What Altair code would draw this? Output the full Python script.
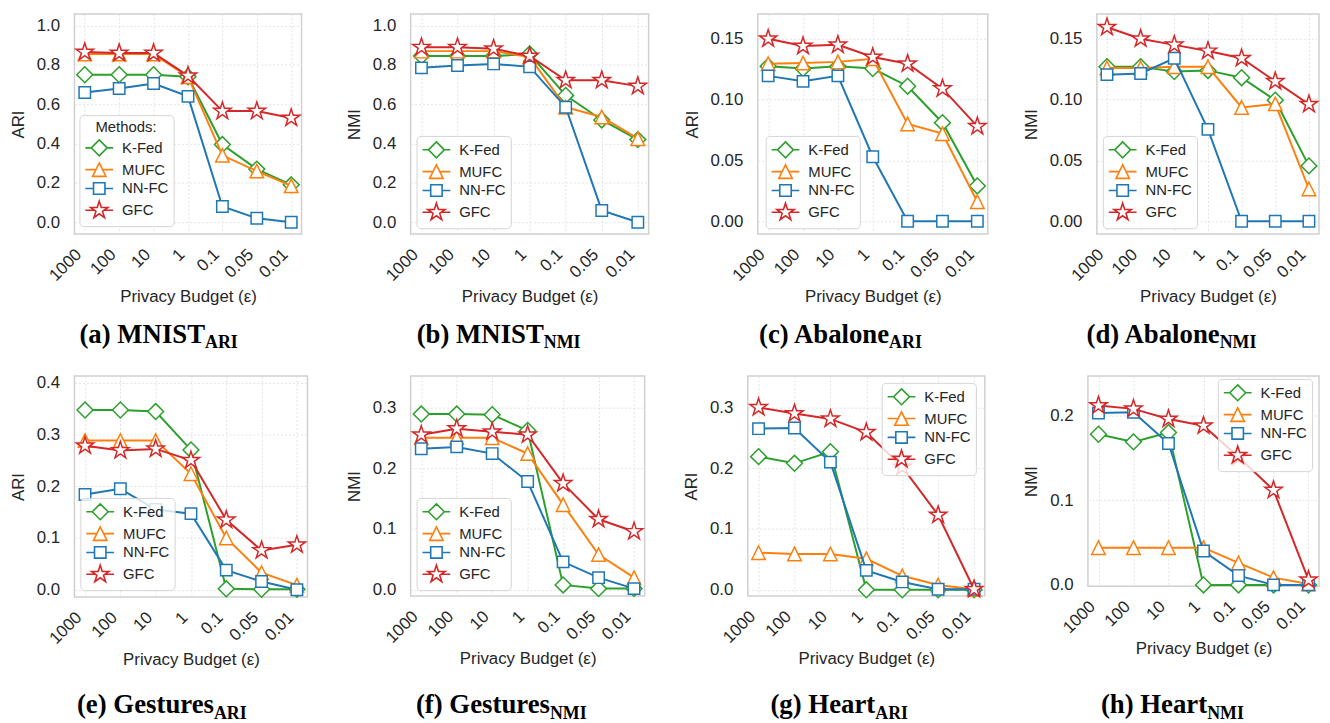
import altair as alt
import pandas as pd

# ---------------- data ----------------
EPS = ["1000", "100", "10", "1", "0.1", "0.05", "0.01"]
METHODS = ["K-Fed", "MUFC", "NN-FC", "GFC"]
COLORS = ["#2ca02c", "#ff7f0e", "#1f77b4", "#d62728"]

MNIST_ARI = {
    "K-Fed": [0.75, 0.75, 0.75, 0.74, 0.395, 0.27, 0.19],
    "MUFC": [0.855, 0.855, 0.855, 0.74, 0.34, 0.26, 0.185],
    "NN-FC": [0.66, 0.68, 0.705, 0.64, 0.08, 0.02, 0.0],
    "GFC": [0.865, 0.86, 0.86, 0.745, 0.565, 0.565, 0.53],
}
MNIST_NMI = {
    "K-Fed": [0.845, 0.845, 0.845, 0.855, 0.645, 0.52, 0.42],
    "MUFC": [0.87, 0.87, 0.87, 0.84, 0.585, 0.535, 0.425],
    "NN-FC": [0.785, 0.797, 0.805, 0.79, 0.585, 0.06, 0.0],
    "GFC": [0.89, 0.89, 0.882, 0.845, 0.722, 0.722, 0.692],
}
ABALONE_ARI = {
    "K-Fed": [0.1275, 0.1255, 0.1275, 0.1255, 0.111, 0.081, 0.029],
    "MUFC": [0.1295, 0.13, 0.131, 0.1335, 0.08, 0.072, 0.016],
    "NN-FC": [0.1195, 0.115, 0.1195, 0.053, 0.0, 0.0, 0.0],
    "GFC": [0.15, 0.144, 0.145, 0.135, 0.1295, 0.109, 0.078],
}
ABALONE_NMI = {
    "K-Fed": [0.127, 0.127, 0.123, 0.124, 0.118, 0.0995, 0.0455],
    "MUFC": [0.126, 0.126, 0.127, 0.127, 0.0935, 0.0965, 0.0265],
    "NN-FC": [0.1205, 0.1215, 0.134, 0.0755, 0.0, 0.0, 0.0],
    "GFC": [0.1595, 0.15, 0.145, 0.14, 0.134, 0.115, 0.0962],
}
GESTURES_ARI = {
    "K-Fed": [0.347, 0.347, 0.344, 0.27, 0.002, 0.001, 0.001],
    "MUFC": [0.288, 0.288, 0.288, 0.224, 0.1, 0.033, 0.009],
    "NN-FC": [0.184, 0.195, 0.155, 0.147, 0.038, 0.016, 0.0],
    "GFC": [0.278, 0.269, 0.272, 0.25, 0.135, 0.076, 0.087],
}
GESTURES_NMI = {
    "K-Fed": [0.289, 0.289, 0.288, 0.262, 0.008, 0.002, 0.002],
    "MUFC": [0.25, 0.25, 0.25, 0.224, 0.14, 0.058, 0.02],
    "NN-FC": [0.232, 0.235, 0.224, 0.178, 0.046, 0.02, 0.002],
    "GFC": [0.255, 0.265, 0.26, 0.255, 0.175, 0.116, 0.096],
}
HEART_ARI = {
    "K-Fed": [0.219, 0.208, 0.227, 0.0, 0.0, 0.0, 0.0],
    "MUFC": [0.061, 0.059, 0.059, 0.051, 0.023, 0.008, 0.001],
    "NN-FC": [0.265, 0.266, 0.21, 0.032, 0.013, 0.001, 0.001],
    "GFC": [0.30, 0.29, 0.281, 0.259, 0.202, 0.123, 0.001],
}
HEART_NMI = {
    "K-Fed": [0.178, 0.169, 0.18, 0.0, 0.0, 0.0, 0.0],
    "MUFC": [0.044, 0.044, 0.044, 0.044, 0.026, 0.0086, 0.001],
    "NN-FC": [0.203, 0.204, 0.167, 0.04, 0.011, 0.0, 0.0],
    "GFC": [0.212, 0.208, 0.196, 0.188, 0.151, 0.112, 0.006],
}

CAPTION_MAIN = ["(a) MNIST", "(b) MNIST", "(c) Abalone\u00a0", "(d) Abalone",
                "(e) Gestures", "(f) Gestures\u00a0", "(g) Heart\u00a0", "(h) Heart"]
CAPTION_SUB = ["ARI", "NMI", "ARI", "NMI", "ARI", "NMI", "ARI", "NMI"]
Y_TITLES = ["ARI", "NMI", "ARI", "NMI", "ARI", "NMI", "ARI", "NMI"]
DATASETS = [MNIST_ARI, MNIST_NMI, ABALONE_ARI, ABALONE_NMI,
            GESTURES_ARI, GESTURES_NMI, HEART_ARI, HEART_NMI]
X_TITLE = "Privacy Budget (\u03b5)"
LEGEND_TITLES = ["Methods:", None, None, None, None, None, None, None]

# ---------------- styling / layout ----------------
DIAMOND = "M0,-1L1,0L0,1L-1,0Z"
SQUARE = "M-0.72,-0.72L0.72,-0.72L0.72,0.72L-0.72,0.72Z"
TRIANGLE = "M0,-0.85L0.85,0.85L-0.85,0.85Z"
STAR = ("M0,-1.15L0.258,-0.355L1.094,-0.355L0.418,0.136L0.676,0.93L0,0.439"
        "L-0.676,0.93L-0.418,0.136L-1.094,-0.355L-0.258,-0.355Z")
SHAPES = [DIAMOND, TRIANGLE, SQUARE, STAR]
HALF = [1.0, 0.425, 0.72, 0.6]
LEG_SHAPES = [f"M-1.75,0L{-h},0M{h},0L1.75,0" + s for s, h in zip(SHAPES, HALF)]
MARKER_SIZE = 256

LAYOUT = [
    dict(w=229, h=222, dom=[-0.0605, 1.059], ticks=[0, 0.2, 0.4, 0.6, 0.8, 1.0], fmt=".1f", lx=5, ly=102, cx=131.7, cy=332, sy=337),
    dict(w=240, h=222, dom=[-0.0605, 1.059], ticks=[0, 0.2, 0.4, 0.6, 0.8, 1.0], fmt=".1f", lx=6, ly=123, cx=134.3, cy=332, sy=337),
    dict(w=232, h=222, dom=[-0.0106, 0.1704], ticks=[0, 0.05, 0.1, 0.15], fmt=".2f", lx=8, ly=123, cx=132.5, cy=332, sy=337),
    dict(w=224, h=222, dom=[-0.0106, 0.1704], ticks=[0, 0.05, 0.1, 0.15], fmt=".2f", lx=6, ly=123, cx=123.8, cy=332, sy=337),
    dict(w=235, h=223, dom=[-0.014, 0.4128], ticks=[0, 0.1, 0.2, 0.3, 0.4], fmt=".1f", lx=6, ly=123, cx=140.7, cy=340, sy=345.5),
    dict(w=236, h=222, dom=[-0.0103, 0.3517], ticks=[0, 0.1, 0.2, 0.3], fmt=".1f", lx=6, ly=123, cx=140.5, cy=340, sy=345.5),
    dict(w=239, h=222, dom=[-0.0103, 0.3517], ticks=[0, 0.1, 0.2, 0.3], fmt=".1f", lx=135, ly=7, cx=128.5, cy=340, sy=345.5),
    dict(w=233, h=212, dom=[-0.0015, 0.2469], ticks=[0, 0.1, 0.2], fmt=".1f", lx=131, ly=3, cx=120.2, cy=340, sy=345.5),
]

TEXT = "#262626"
SANS = "Liberation Sans"
SERIF = "Liberation Serif"


def make_panel(i):
    data = DATASETS[i]
    lay = LAYOUT[i]
    rows = []
    for m in METHODS:
        for e, v in zip(EPS, data[m]):
            rows.append({"eps": e, "method": m, "value": v})
    df = pd.DataFrame(rows)

    x = alt.X("eps:N", sort=EPS,
              scale=alt.Scale(type="point", domain=EPS, padding=0.3),
              axis=alt.Axis(title=X_TITLE, labelAngle=315, labelAlign="right",
                            labelBaseline="bottom", grid=True))
    y = alt.Y("value:Q",
              scale=alt.Scale(domain=lay["dom"], nice=False, zero=False),
              axis=alt.Axis(title=Y_TITLES[i], values=lay["ticks"], format=lay["fmt"], grid=True))
    stroke_scale = alt.Scale(domain=METHODS, range=COLORS)
    shape_scale = alt.Scale(domain=METHODS, range=SHAPES)
    leg_shape_scale = alt.Scale(domain=METHODS, range=LEG_SHAPES)

    leg_kwargs = dict(
        orient="none", legendX=lay["lx"], legendY=lay["ly"],
        fillColor="rgba(255,255,255,0.8)", strokeColor="#d5d5d5",
        cornerRadius=4, padding=5, rowPadding=0,
        symbolOffset=6, labelOffset=14, symbolStrokeWidth=1.6,
        symbolFillColor="white", symbolSize=MARKER_SIZE,
    )
    if LEGEND_TITLES[i]:
        leg_kwargs.update(title=LEGEND_TITLES[i], titleAnchor="middle", titlePadding=4)
    else:
        leg_kwargs.update(title=None)
    legend = alt.Legend(**leg_kwargs)

    base = alt.Chart(df)
    layers = []
    for m in METHODS:
        sub = base.transform_filter(alt.datum.method == m)
        layers.append(sub.mark_line(strokeWidth=2).encode(
            x=x, y=y, stroke=alt.Stroke("method:N", scale=stroke_scale, legend=None)))
        layers.append(sub.mark_point(filled=True, fill="white", size=MARKER_SIZE,
                                     strokeWidth=1.5, opacity=1).encode(
            x=x, y=y,
            stroke=alt.Stroke("method:N", scale=stroke_scale, legend=None),
            shape=alt.Shape("method:N", scale=shape_scale, legend=None)))

    # legend-only layer (no drawn points: filtered to nothing, domain is explicit)
    layers.append(base.transform_filter("false").mark_point(
        filled=True, fill="white", size=MARKER_SIZE, strokeWidth=1.6, opacity=1).encode(
        x=x, y=y,
        stroke=alt.Stroke("method:N", scale=stroke_scale, legend=legend),
        shape=alt.Shape("method:N", scale=leg_shape_scale, legend=legend)))

    cap_main = alt.Chart(pd.DataFrame({"t": [CAPTION_MAIN[i]]})).mark_text(
        align="right", baseline="alphabetic", font=SERIF, fontWeight="bold",
        fontSize=27, color="black").encode(
        x=alt.value(lay["cx"]), y=alt.value(lay["cy"]), text="t:N")
    cap_sub = alt.Chart(pd.DataFrame({"t": [CAPTION_SUB[i]]})).mark_text(
        align="left", baseline="alphabetic", font=SERIF, fontWeight="bold",
        fontSize=18, color="black").encode(
        x=alt.value(lay["cx"]), y=alt.value(lay["sy"]), text="t:N")
    layers += [cap_main, cap_sub]

    return alt.layer(*layers).resolve_scale(
        stroke="independent", shape="independent"
    ).resolve_legend(stroke="independent", shape="independent").properties(
        width=lay["w"], height=lay["h"])


panels = [make_panel(i) for i in range(8)]

RES = dict(x="independent", y="independent", stroke="independent", shape="independent")
LRES = dict(stroke="independent", shape="independent")

top = alt.hconcat(*panels[:4], spacing=110, bounds="flush").resolve_scale(**RES).resolve_legend(**LRES)
bottom = alt.hconcat(*panels[4:], spacing=104, bounds="flush").resolve_scale(**RES).resolve_legend(**LRES)

# nested flush groups report no height, so the row gap includes the top row's height
chart = alt.vconcat(top, bottom, spacing=365, bounds="flush").resolve_scale(**RES).resolve_legend(**LRES)
chart = chart.properties(
    padding={"left": 0, "top": 2, "right": 0, "bottom": 0},
    background="white",
).configure_view(
    stroke="#d0d0d0", strokeWidth=1.5
).configure_axis(
    labelFont=SANS, labelFontSize=17, labelColor=TEXT,
    titleFont=SANS, titleFontSize=17, titleFontWeight="normal", titleColor=TEXT,
    domain=False, ticks=False, gridColor="#e3e3e3", gridDash=[2, 2], gridWidth=1,
).configure_axisY(
    labelPadding=15, titlePadding=9
).configure_axisX(
    labelPadding=24, titlePadding=5
).configure_legend(
    labelFont=SANS, labelFontSize=15, labelColor=TEXT,
    titleFont=SANS, titleFontSize=15, titleFontWeight="normal", titleColor=TEXT,
)

chart.save("out.html", embed_options={"renderer": "svg", "actions": False})
